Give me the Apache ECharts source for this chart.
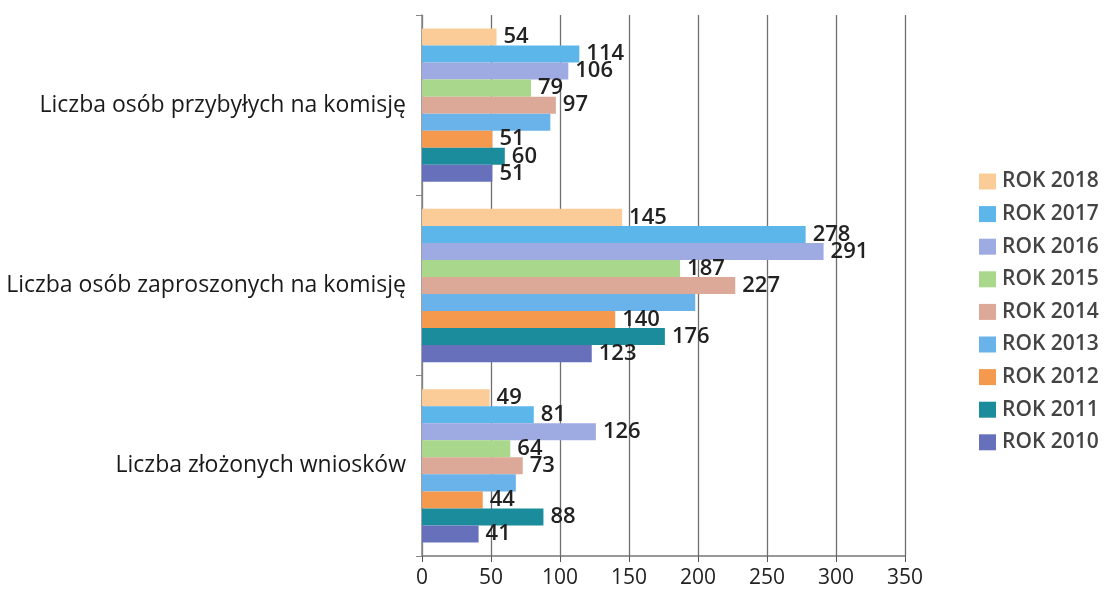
<!DOCTYPE html>
<html><head><meta charset="utf-8">
<script src="https://cdn.jsdelivr.net/npm/echarts@6/dist/echarts.min.js"></script>
<style>html,body{margin:0;padding:0;background:#fff}#c{width:1106px;height:598px}</style>
</head><body><div id="c"></div>
<script>
const categories = ['Liczba złożonych wniosków', 'Liczba osób zaproszonych na komisję', 'Liczba osób przybyłych na komisję'];
const seriesNames = ['ROK 2018', 'ROK 2017', 'ROK 2016', 'ROK 2015', 'ROK 2014', 'ROK 2013', 'ROK 2012', 'ROK 2011', 'ROK 2010'];
const rok2018 = [49, 145, 54];
const rok2017 = [81, 278, 114];
const rok2016 = [126, 291, 106];
const rok2015 = [64, 187, 79];
const rok2014 = [73, 227, 97];
const rok2013 = [68, 198, 93];
const rok2012 = [44, 140, 51];
const rok2011 = [88, 176, 60];
const rok2010 = [41, 123, 51];
const xTicks = [0, 50, 100, 150, 200, 250, 300, 350];
const values = [rok2018, rok2017, rok2016, rok2015, rok2014, rok2013, rok2012, rok2011, rok2010];
const colors = ['#FBCB98', '#5DB6EA', '#9EAAE2', '#A9D78C', '#DCA898', '#6AB2EA', '#F5994E', '#1B8C9C', '#6670BB'];
const showLabel = [true, true, true, true, true, false, true, true, true];
const font = '"Open Sans", "Noto Sans", sans-serif';

const chart = echarts.init(document.getElementById('c'), null, {renderer: 'canvas'});
chart.setOption({
  animation: false,
  color: colors,
  grid: {left: 422, right: 201, top: 15, bottom: 42, containLabel: false},
  legend: {
    orient: 'vertical', left: 974, top: 166,
    data: seriesNames,
    itemWidth: 17, itemHeight: 16, itemGap: 11.6,
    icon: 'rect',
    textStyle: {fontFamily: font, fontSize: 21, color: '#444', fontWeight: 600, padding: [0, 0, 0, 1]}
  },
  xAxis: {
    type: 'value', min: xTicks[0], max: xTicks[xTicks.length - 1], interval: 50,
    axisLine: {show: true, lineStyle: {color: '#777', width: 1.5}},
    axisTick: {show: true, length: 6, lineStyle: {color: '#555'}},
    axisLabel: {fontFamily: font, fontSize: 21, color: '#222', margin: 12},
    splitLine: {show: true, lineStyle: {color: '#707070', width: 1.3}}
  },
  yAxis: {
    type: 'category', data: categories,
    axisLine: {show: true, lineStyle: {color: '#888', width: 1.5}},
    axisTick: {show: true, length: 6, lineStyle: {color: '#888'}},
    axisLabel: {fontFamily: font, fontSize: 23, color: '#1a1a1a', margin: 16}
  },
  series: seriesNames.map((n, i) => ({
    name: n, type: 'bar', data: values[i],
    barCategoryGap: '15%', barGap: '0%',
    itemStyle: {color: colors[i]},
    label: {show: showLabel[i], position: 'right', distance: 7,
      fontFamily: font, fontSize: 22, fontWeight: 600, color: '#222'}
  }))
});
</script></body></html>
